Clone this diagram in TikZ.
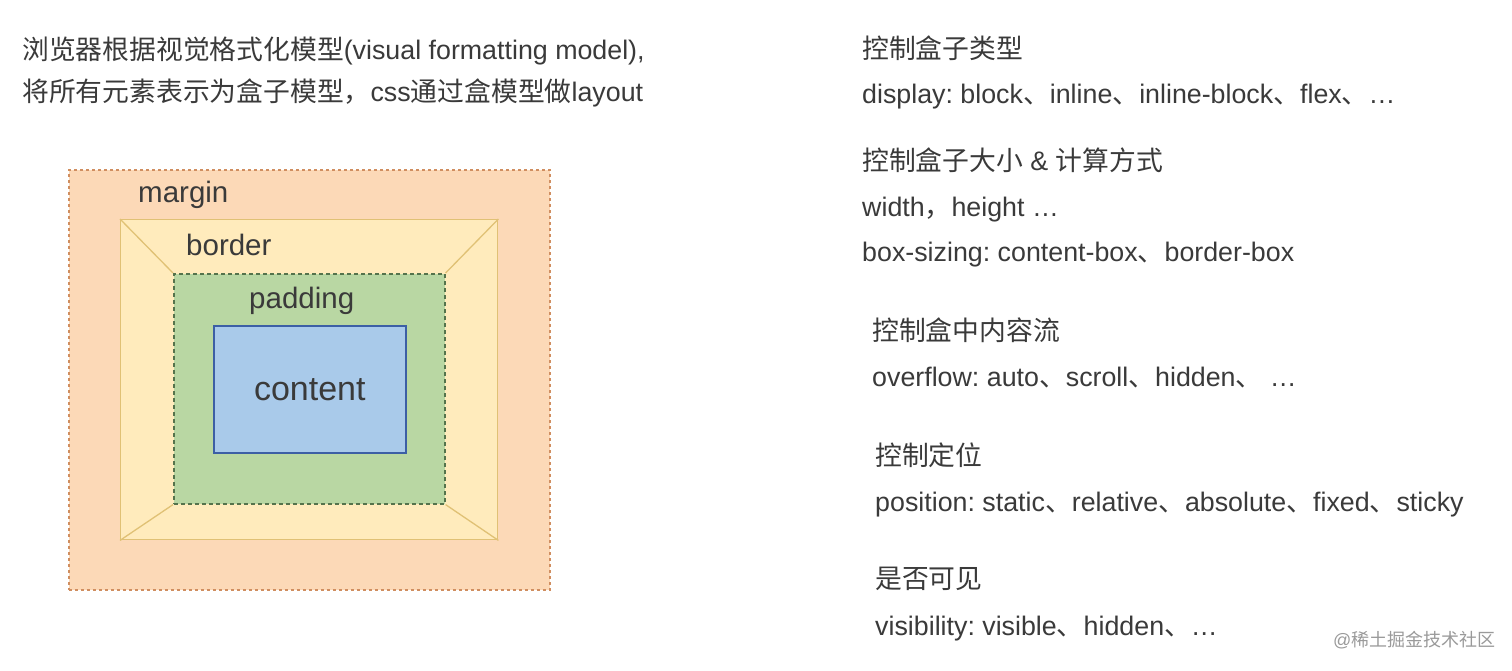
\documentclass[tikz,border=0pt]{standalone}
\usepackage{fontspec}
\setmainfont{Liberation Sans}
\newfontfamily\cjkfont{Noto Sans CJK SC}
\newcommand\zhs[1]{{\cjkfont #1}}
\definecolor{txt}{HTML}{3A3A3A}
\definecolor{marginfill}{HTML}{FCD9B7}
\definecolor{marginline}{HTML}{D08E60}
\definecolor{borderfill}{HTML}{FFEBBC}
\definecolor{borderline}{HTML}{E0C175}
\definecolor{padfill}{HTML}{B9D7A3}
\definecolor{padline}{HTML}{55734C}
\definecolor{contfill}{HTML}{A9CAEA}
\definecolor{contline}{HTML}{3C5FA5}
\definecolor{wmark}{HTML}{9A9A9A}
\begin{document}
\frenchspacing
\begin{tikzpicture}[x=1pt,y=-1pt,
  txtnode/.style={anchor=west,inner sep=0pt,text=txt,font=\fontsize{26.8}{32}\selectfont},
  txtbase/.style={anchor=base west,inner sep=0pt,text=txt,font=\fontsize{26.8}{32}\selectfont},
  lbl/.style={anchor=base west,inner sep=0pt,text=txt,font=\fontsize{29.5}{34}\selectfont},
  layerbox/.style={rectangle,inner sep=0pt,anchor=north west}]
\useasboundingbox (0,0) rectangle (1512,671);
\fill[white] (0,0) rectangle (1512,671);
% boxes
\node[layerbox,draw=marginline,fill=marginfill,dash pattern=on 3pt off 3pt,line width=1.6pt,
  minimum width=481pt,minimum height=420pt] (margin) at (68,169) {};
\node[layerbox,draw=borderline,fill=borderfill,line width=1.4pt,
  minimum width=377pt,minimum height=320pt] (border) at (120,219) {};
\node[layerbox,draw=padline,fill=padfill,dash pattern=on 4pt off 3pt,line width=1.6pt,
  minimum width=271pt,minimum height=230pt] (padding) at (173,273) {};
\node[layerbox,draw=contline,fill=contfill,line width=1.6pt,
  minimum width=192pt,minimum height=127pt] (content) at (213,325) {};
\draw[borderline,line width=1.3pt] (border.north west) -- (padding.north west);
\draw[borderline,line width=1.3pt] (border.north east) -- (padding.north east);
\draw[borderline,line width=1.3pt] (border.south west) -- (padding.south west);
\draw[borderline,line width=1.3pt] (border.south east) -- (padding.south east);
% labels
\node[lbl] (tmargin) at (138,203) {margin};
\node[lbl] (tborder) at (186,255) {border};
\node[lbl] (tpadding) at (249,308) {padding};
\node[anchor=center,inner sep=0pt,text=txt,font=\fontsize{34}{40}\selectfont] (tcontent) at (content.center) {content};
% top-left text
\node[txtnode] (intro1) at (22,51) {\zhs{浏览器根据视觉格式化模型}(visual formatting model),};
\node[txtnode] (intro2) at (22,93) {\zhs{将所有元素表示为盒子模型，}css\zhs{通过盒模型做}layout};
% right column
\node[txtnode] (h1) at (862,48) {\zhs{控制盒子类型}};
\node[txtbase] (l1) at (862,104) {display: block\zhs{、}inline\zhs{、}inline-block\zhs{、}flex\zhs{、}…};
\node[txtnode] (h2) at (862,160) {\zhs{控制盒子大小} \& \zhs{计算方式}};
\node[txtbase] (l2) at (862,216) {width\zhs{，}height …};
\node[txtbase] (l3) at (862,261) {box-sizing: content-box\zhs{、}border-box};
\node[txtnode] (h3) at (872,330) {\zhs{控制盒中内容流}};
\node[txtbase] (l4) at (872,386) {overflow: auto\zhs{、}scroll\zhs{、}hidden\zhs{、} …};
\node[txtnode] (h4) at (875,455) {\zhs{控制定位}};
\node[txtbase] (l5) at (875,511) {position: static\zhs{、}relative\zhs{、}absolute\zhs{、}fixed\zhs{、}sticky};
\node[txtnode] (h5) at (875,579) {\zhs{是否可见}};
\node[txtbase] (l6) at (875,635) {visibility: visible\zhs{、}hidden\zhs{、}…};
\node[anchor=west,inner sep=0pt,text=wmark,font=\fontsize{18}{22}\selectfont] (wm) at (1333,640) {@\zhs{稀土掘金技术社区}};
\end{tikzpicture}
\end{document}
